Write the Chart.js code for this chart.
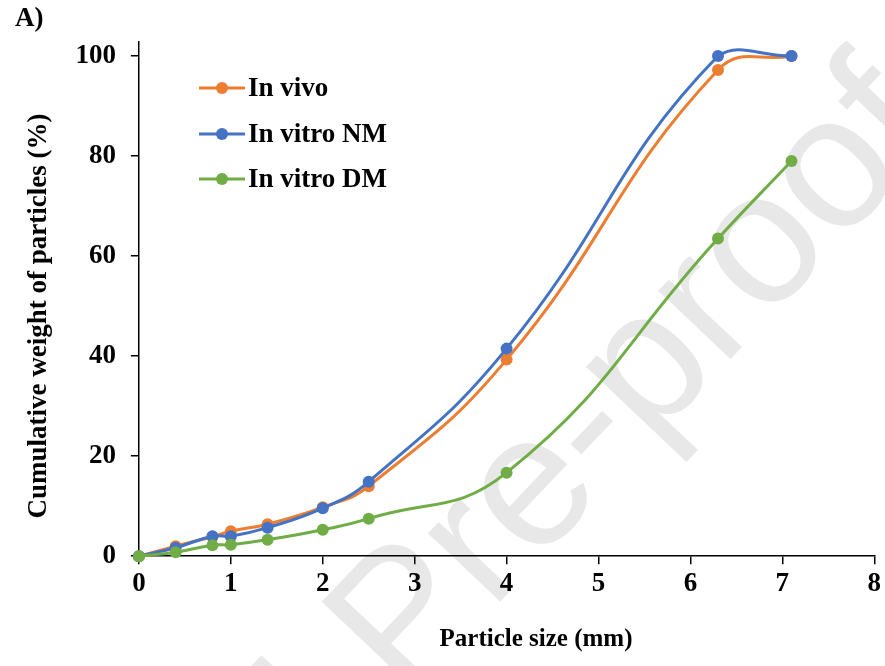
<!DOCTYPE html>
<html>
<head>
<meta charset="utf-8">
<script src="https://cdn.jsdelivr.net/npm/chart.js@4.4.1/dist/chart.umd.min.js"></script>
<style>
html,body{margin:0;padding:0;background:#fff;}
#wrap{width:885px;height:666px;position:relative;}
</style>
</head>
<body>
<div id="wrap"><canvas id="c" width="885" height="666"></canvas></div>
<script>
const particleSizes = [0, 0.4, 0.8, 1.0, 1.4, 2.0, 2.5, 4.0, 6.3, 7.1];
const inVivo      = [0, 2.0, 3.9, 5.0, 6.4, 9.8, 14.0, 39.3, 97.2, 100];
const inVitroNM   = [0, 1.7, 4.0, 4.0, 5.7, 9.6, 14.9, 41.5, 100, 100];
const inVitroDM   = [0, 0.8, 2.2, 2.3, 3.3, 5.3, 7.5, 16.7, 63.5, 79.0];
const seriesNames = ['In vivo', 'In vitro NM', 'In vitro DM'];
const seriesColors = ['#ED7D31', '#4472C4', '#70AD47'];
const yTicks = [0, 20, 40, 60, 80, 100];
const xTicks = [0, 1, 2, 3, 4, 5, 6, 7, 8];
const xTitle = 'Particle size (mm)';
const yTitle = 'Cumulative weight of particles (%)';
const panelLabel = 'A)';

const FONT = "'Liberation Serif', 'Times New Roman', serif";

function toPoints(arr){ return particleSizes.map((x,i)=>({x:x, y:arr[i]})); }

const watermark = {
  id:'watermark',
  beforeDraw(chart){
    const ctx = chart.ctx;
    ctx.save();
    ctx.translate(405, 702);
    ctx.rotate(-46.5*Math.PI/180);
    ctx.font = "188px 'Liberation Sans', Arial, sans-serif";
    ctx.fillStyle = '#e8e8e8';
    ctx.textBaseline = 'alphabetic';
    ctx.fillText('Journal Pre-proof', -ctx.measureText('Journal ').width, 0);
    ctx.restore();
  }
};

const extras = {
  id:'extras',
  afterDraw(chart){
    const ctx = chart.ctx;
    ctx.save();
    ctx.fillStyle = '#000';
    ctx.textBaseline = 'middle';
    ctx.font = "bold 27px " + FONT;
    ctx.textAlign = 'left';
    ctx.fillText(panelLabel, 15, 19);
    // axis titles
    ctx.textAlign = 'center';
    ctx.font = "bold 25px " + FONT;
    ctx.fillText(xTitle, 536, 640);
    ctx.save();
    ctx.translate(39, 316);
    ctx.rotate(-Math.PI/2);
    ctx.font = "bold 27px " + FONT;
    ctx.fillText(yTitle, 0, 0);
    ctx.restore();
    // legend
    ctx.textAlign = 'left';
    const rows = [88, 134, 179];
    chart.data.datasets.forEach((ds, i) => {
      const y = rows[i];
      ctx.strokeStyle = ds.borderColor;
      ctx.lineWidth = 3;
      ctx.beginPath(); ctx.moveTo(199, y); ctx.lineTo(245, y); ctx.stroke();
      ctx.fillStyle = ds.borderColor;
      ctx.beginPath(); ctx.arc(222, y, 6, 0, Math.PI*2); ctx.fill();
      ctx.fillStyle = '#000';
      ctx.font = "bold 27px " + FONT;
      ctx.fillText(ds.label, 248, y + 1);
    });
    ctx.restore();
  }
};

const drawOrder = [3, 2, 1];

new Chart(document.getElementById('c'), {
  type: 'line',
  data: {
    datasets: [
      {label: seriesNames[0], data: toPoints(inVivo), borderColor: seriesColors[0], backgroundColor: seriesColors[0]},
      {label: seriesNames[1], data: toPoints(inVitroNM), borderColor: seriesColors[1], backgroundColor: seriesColors[1]},
      {label: seriesNames[2], data: toPoints(inVitroDM), borderColor: seriesColors[2], backgroundColor: seriesColors[2]}
    ].map((d, i) => Object.assign(d, {order: drawOrder[i], borderWidth: 3, pointRadius: 6, pointHoverRadius: 6, pointBorderWidth: 0, tension: 0.45, clip: false, fill: false}))
  },
  options: {
    responsive: false,
    animation: false,
    devicePixelRatio: 1,
    layout: {padding: {top: 42, right: 10, left: 60.4, bottom: 61.4}},
    plugins: {legend: {display: false}, tooltip: {enabled: false}},
    scales: {
      x: {
        type: 'linear', min: 0, max: 8,
        afterBuildTicks: s => { s.ticks = xTicks.map(v => ({value: v})); },
        border: {display: true, color: '#000', width: 1.5},
        grid: {display: true, drawOnChartArea: false, drawTicks: true, tickLength: 8, color: '#000', lineWidth: 1.5},
        ticks: {color: '#000', font: {family: FONT, size: 27, weight: 'bold'}, padding: 4, maxRotation: 0}
      },
      y: {
        type: 'linear', min: 0, max: 102.8,
        afterBuildTicks: s => { s.ticks = yTicks.map(v => ({value: v})); },
        border: {display: true, color: '#000', width: 1.5},
        grid: {display: true, drawOnChartArea: false, drawTicks: true, tickLength: 8, color: '#000', lineWidth: 1.5},
        ticks: {color: '#000', font: {family: FONT, size: 27, weight: 'bold'}, padding: 15}
      }
    }
  },
  plugins: [watermark, extras]
});
</script>
</body>
</html>
